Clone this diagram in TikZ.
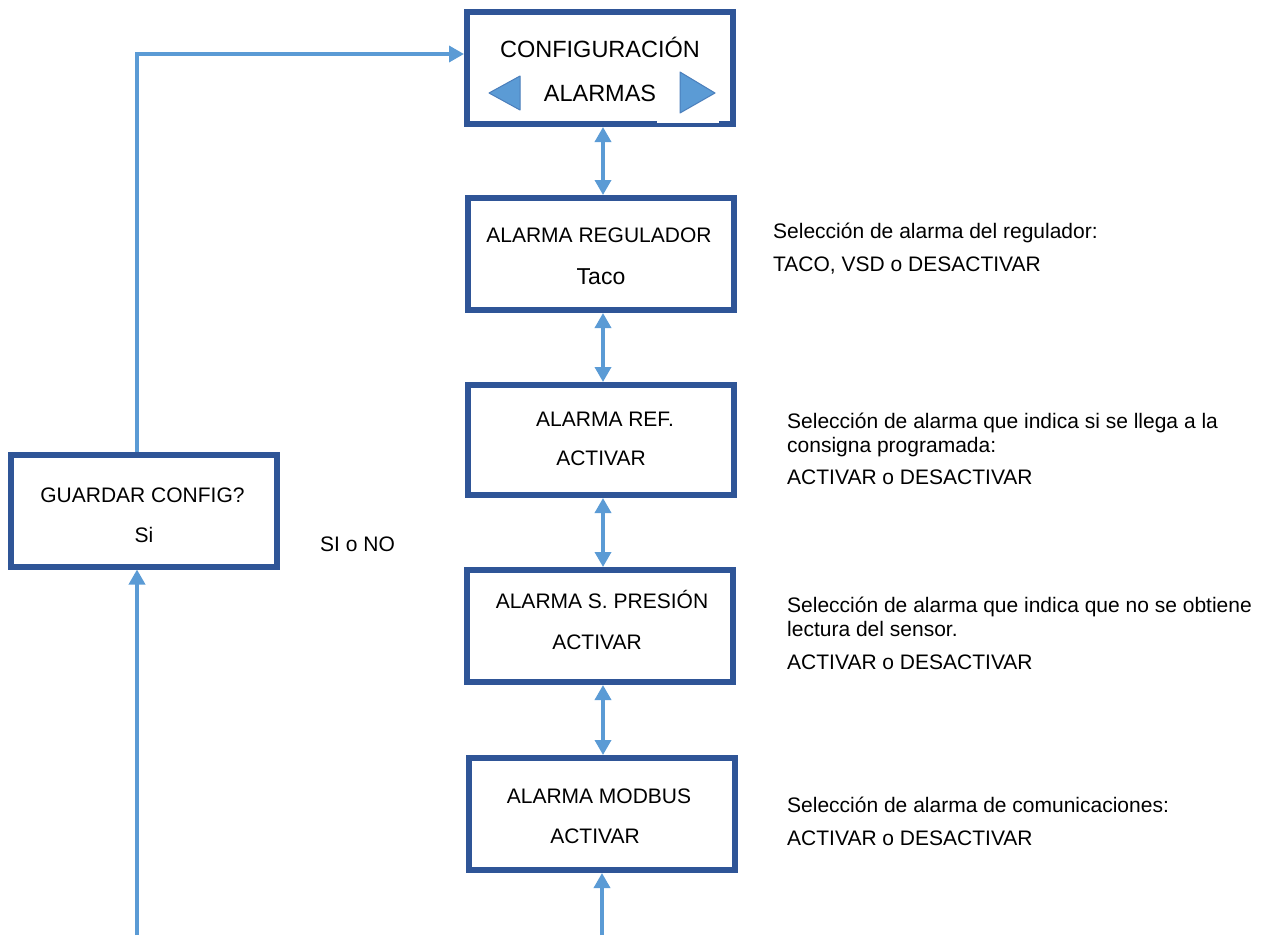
\documentclass[tikz,border=0pt]{standalone}
\usepackage{fontspec}
\setmainfont{Liberation Sans}
\usetikzlibrary{arrows.meta}
\definecolor{boxblue}{HTML}{2F5597}
\definecolor{arrblue}{HTML}{5B9BD5}
\definecolor{tridraw}{HTML}{4A7EBB}
\begin{document}
\begin{tikzpicture}[x=1pt,y=-1pt,
  stepbox/.style={draw=boxblue, line width=6pt, fill=white, minimum width=266pt, minimum height=112pt, inner sep=0pt},
  txt/.style={anchor=base, inner sep=0pt, font=\fontsize{21pt}{25pt}\selectfont},
  bigtxt/.style={anchor=base, inner sep=0pt, font=\fontsize{23.5pt}{28pt}\selectfont},
  note/.style={anchor=base west, inner sep=0pt, font=\fontsize{21pt}{25pt}\selectfont},
  link/.style={draw=arrblue, line width=3.5pt, -{Triangle[length=15pt,width=16pt]}},
  dbl/.style={draw=arrblue, line width=3.5pt, {Triangle[length=15pt,width=16pt]}-{Triangle[length=15pt,width=16pt]}},
  tri/.style={fill=arrblue, draw=tridraw, line width=1pt, line join=round}
]
\useasboundingbox (0,0) rectangle (1261,935);

% boxes
\node[stepbox] (b1) at (600,68) {};
\node[stepbox] (b2) at (601,254) {};
\node[stepbox, minimum height=110pt] (b3) at (601,440) {};
\node[stepbox] (b4) at (600,626) {};
\node[stepbox] (b5) at (602,814) {};
\node[stepbox] (g) at (144,510.5) {};

% connectors
\coordinate (col) at (603,0);
\draw[dbl] (b1.south -| col) -- (b2.north -| col);
\draw[dbl] (b2.south -| col) -- (b3.north -| col);
\draw[dbl] (b3.south -| col) -- (b4.north -| col);
\draw[dbl] (b4.south -| col) -- (b5.north -| col);
\coordinate (bot5) at (602,935);
\draw[link] (bot5) -- (b5.south -| bot5);
\coordinate (botg) at (137,935);
\draw[link] (botg) -- (g.south -| botg);
\draw[link] (g.north -| botg) |- ([yshift=14pt]b1.west);

% top box decorations
\fill[white] (657,70) rectangle (719,122.5);
\draw[tri] (489,93) -- (520,76) -- (520,110) -- cycle;
\draw[tri] (715,93) -- (680,72) -- (680,113) -- cycle;

% box texts
\node[bigtxt] (t1a) at (600,57) {CONFIGURACIÓN};
\node[bigtxt] (t1b) at (600,101) {ALARMAS};
\node[txt] (t2a) at (599,242) {ALARMA REGULADOR};
\node[txt, font=\fontsize{23pt}{28pt}\selectfont] (t2b) at (601,284) {Taco};
\node[txt] (t3a) at (605,426) {ALARMA REF.};
\node[txt] (t3b) at (601,465) {ACTIVAR};
\node[txt] (t4a) at (602,608) {ALARMA S. PRESIÓN};
\node[txt] (t4b) at (597,649) {ACTIVAR};
\node[txt] (t5a) at (599,803) {ALARMA MODBUS};
\node[txt] (t5b) at (595,843) {ACTIVAR};
\node[txt] (gta) at (142.5,502) {GUARDAR CONFIG?};
\node[txt] (gtb) at (144,542) {Si};
\node[note] (sino) at (320,551) {SI o NO};

% annotations
\node[note] (n1a) at (773,238) {Selección de alarma del regulador:};
\node[note] (n1b) at (773,271) {TACO, VSD o DESACTIVAR};
\node[note] (n2a) at (787,428) {Selección de alarma que indica si se llega a la};
\node[note] (n2b) at (787,452) {consigna programada:};
\node[note] (n2c) at (787,484) {ACTIVAR o DESACTIVAR};
\node[note] (n3a) at (787,612) {Selección de alarma que indica que no se obtiene};
\node[note] (n3b) at (787,636) {lectura del sensor.};
\node[note] (n3c) at (787,669) {ACTIVAR o DESACTIVAR};
\node[note] (n4a) at (787,812) {Selección de alarma de comunicaciones:};
\node[note] (n4b) at (787,845) {ACTIVAR o DESACTIVAR};
\end{tikzpicture}
\end{document}
